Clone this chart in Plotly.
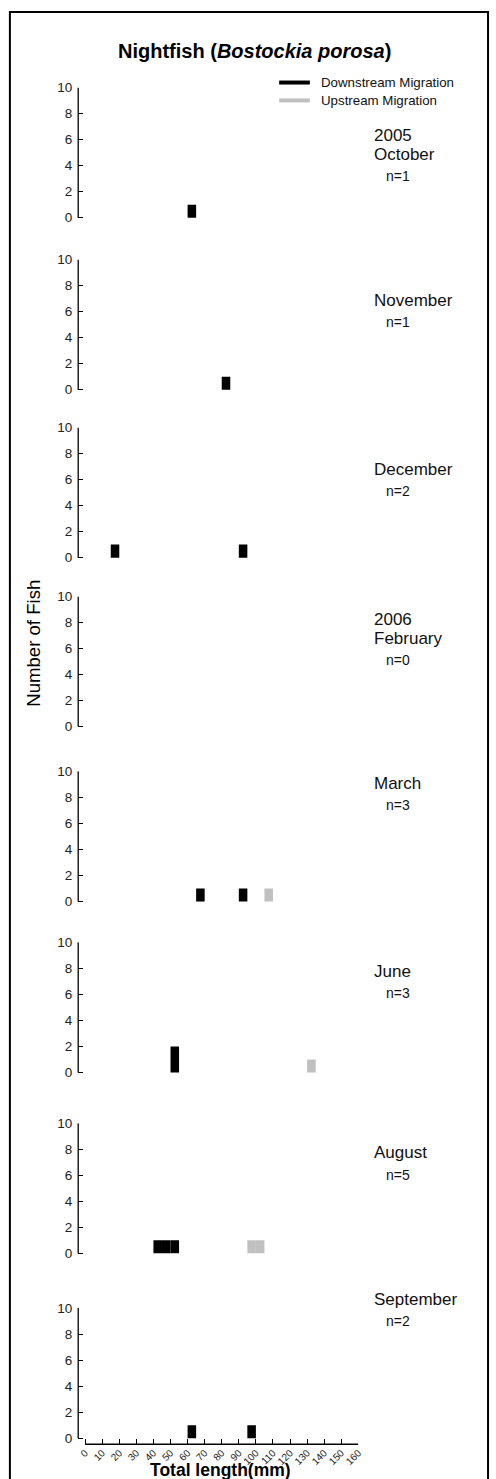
import plotly.graph_objects as go

# ---- data (bins are 5 mm wide; value = left edge of bin in mm) ----
months = ["October", "November", "December", "February", "March", "June", "August", "September"]
years = ["2005", "", "", "2006", "", "", "", ""]
n_counts = [1, 1, 2, 0, 3, 3, 5, 2]

down_bins = [[60], [80], [15, 90], [], [65, 90], [50], [40, 45, 50], [60, 95]]
down_counts = [[1], [1], [1, 1], [], [1, 1], [2], [1, 1, 1], [1, 1]]
up_bins = [[], [], [], [], [105], [130], [95, 100], []]
up_counts = [[], [], [], [], [1], [1], [1, 1], []]

x_ticks = list(range(0, 161, 10))
y_ticks = [0, 2, 4, 6, 8, 10]
legend_names = ["Downstream Migration", "Upstream Migration"]

BIN_W = 5
DOWN_COLOR = "#000000"
UP_COLOR = "#c0c0c0"

W, H = 496, 1479
FONT = "Arial, Liberation Sans, sans-serif"


def px(x):
    return x / W


def py(y):
    return 1 - y / H


# panel layout (pixel positions of the y=10 tick)
panel_tops = [81, 254, 423, 593, 769, 941, 1123, 1309]
unit_px = 13.1
y_lo = -0.46
x_left_px, x_right_px = 79, 362
x_range = [-4.06, 160]

fig = go.Figure()
layout = dict(
    width=W, height=H,
    margin=dict(l=0, r=0, t=0, b=0),
    paper_bgcolor="white", plot_bgcolor="white",
    barmode="overlay",
    font=dict(family=FONT, color="#222"),
    showlegend=False,
    hovermode=False,
)
shapes = []
annotations = []

for i in range(8):
    k = "" if i == 0 else str(i + 1)
    top = panel_tops[i]
    bottom = top + (10 - y_lo) * unit_px
    is_last = i == 7
    layout["xaxis" + k] = dict(
        domain=[px(x_left_px), px(x_right_px)],
        range=x_range,
        anchor="y" + k,
        showgrid=False, zeroline=False, showline=False,
        tickmode="array", tickvals=x_ticks if is_last else [],
        ticktext=[str(t) for t in x_ticks] if is_last else [],
        ticks="inside" if is_last else "", ticklen=5, tickcolor="black", tickwidth=1,
        tickangle=-45, tickfont=dict(size=10, color="#222"),
        showticklabels=is_last,
        fixedrange=True,
    )
    layout["yaxis" + k] = dict(
        domain=[py(bottom), py(top)],
        range=[y_lo, 10],
        anchor="x" + k,
        showgrid=False, zeroline=False, showline=False,
        tickmode="array", tickvals=y_ticks,
        ticks="inside", ticklen=5, tickcolor="black", tickwidth=1,
        tickfont=dict(size=13.5, color="#222"),
        ticklabelstandoff=5,
        fixedrange=True,
    )
    # y axis line from 0 to 10
    shapes.append(dict(type="line", xref="x" + k + " domain", yref="y" + k,
                       x0=0, x1=0, y0=0, y1=10, line=dict(color="black", width=1.3)))
    if is_last:
        shapes.append(dict(type="line", xref="x" + k, yref="y" + k + " domain",
                           x0=0, x1=160, y0=0, y1=0, line=dict(color="black", width=1.3)))

    if down_bins[i]:
        fig.add_trace(go.Bar(x=down_bins[i], y=down_counts[i], width=BIN_W, offset=0,
                             marker=dict(color=DOWN_COLOR, line=dict(width=0)),
                             xaxis="x" + k, yaxis="y" + k, name=legend_names[0]))
    if up_bins[i]:
        fig.add_trace(go.Bar(x=up_bins[i], y=up_counts[i], width=BIN_W, offset=0,
                             marker=dict(color=UP_COLOR, line=dict(width=0)),
                             xaxis="x" + k, yaxis="y" + k, name=legend_names[1]))

# month / n labels (pixel y of the month line)
month_y = [148, 295, 465, 635, 781, 970, 1153, 1300]
for i in range(8):
    if years[i]:
        annotations.append(dict(text=years[i], x=px(376), y=py(month_y[i] - 19), xref="paper", yref="paper",
                                xanchor="left", yanchor="middle", showarrow=False,
                                font=dict(size=17, color="#111")))
    annotations.append(dict(text=months[i], x=px(376), y=py(month_y[i]), xref="paper", yref="paper",
                            xanchor="left", yanchor="middle", showarrow=False,
                            font=dict(size=17, color="#111")))
    annotations.append(dict(text="n=%d" % n_counts[i], x=px(388), y=py(month_y[i] + 22), xref="paper", yref="paper",
                            xanchor="left", yanchor="middle", showarrow=False,
                            font=dict(size=14, color="#111")))

# title
annotations.append(dict(text="<b>Nightfish (<i>Bostockia porosa</i>)</b>", x=px(257), y=py(44),
                        xref="paper", yref="paper", xanchor="center", yanchor="middle",
                        showarrow=False, font=dict(size=20, color="black")))
# axis titles
annotations.append(dict(text="Number of Fish", x=px(33), y=py(640), xref="paper", yref="paper",
                        xanchor="center", yanchor="middle", textangle=-90, showarrow=False,
                        font=dict(size=18.6, color="black")))
annotations.append(dict(text="<b>Total length(mm)</b>", x=px(223), y=py(1472), xref="paper", yref="paper",
                        xanchor="center", yanchor="middle", showarrow=False,
                        font=dict(size=17.5, color="black")))

# legend (drawn key)
legend_rows = [(76, DOWN_COLOR, legend_names[0]), (94, UP_COLOR, legend_names[1])]
for ly, col, name in legend_rows:
    shapes.append(dict(type="line", xref="paper", yref="paper", x0=px(282), x1=px(313),
                       y0=py(ly), y1=py(ly), line=dict(color=col, width=4)))
    annotations.append(dict(text=name, x=px(322), y=py(ly), xref="paper", yref="paper",
                            xanchor="left", yanchor="middle", showarrow=False,
                            font=dict(size=13.3, color="#111")))

# frame
shapes.append(dict(type="rect", xref="paper", yref="paper", x0=px(10), x1=px(493), y0=py(1500), y1=py(5),
                   line=dict(color="black", width=2)))

layout["shapes"] = shapes
layout["annotations"] = annotations
fig.update_layout(**layout)

fig.write_html("out.html",
               config={"displayModeBar": False, "staticPlot": True},
               post_script="document.body.style.margin='0px';document.body.style.overflow='hidden';")
